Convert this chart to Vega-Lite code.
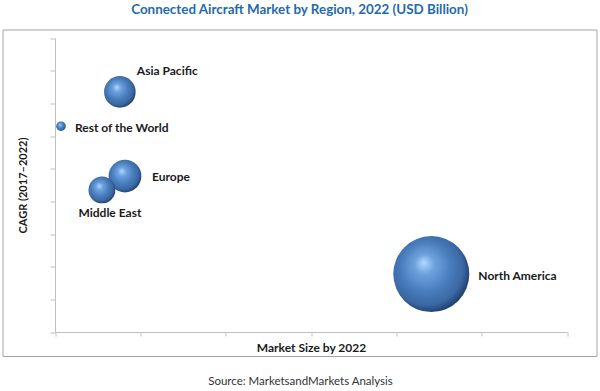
{
  "$schema": "https://vega.github.io/schema/vega-lite/v6.json",
  "autosize": "none",
  "width": 594,
  "height": 326.5,
  "padding": {"left": 2.5, "top": 29.5, "right": 3.5, "bottom": 35},
  "background": "white",
  "config": {
    "font": "Lato",
    "view": {"stroke": "#a6a6a6", "strokeWidth": 1},
    "title": {"font": "Lato"},
    "axis": {"titleFont": "Lato", "labelFont": "Lato"}
  },
  "title": {
    "text": "Connected Aircraft Market by Region, 2022 (USD Billion)",
    "anchor": "middle",
    "frame": "bounds",
    "fontSize": 13.4,
    "fontWeight": "bold",
    "color": "#1f6aad",
    "offset": 13
  },
  "resolve": {"axis": {"x": "independent"}},
  "data": {
    "values": [
      {"region": "North America", "market": 4.41, "cagr": 3.55},
      {"region": "Asia Pacific", "market": 0.76, "cagr": 14.7},
      {"region": "Rest of the World", "market": 0.07, "cagr": 12.6},
      {"region": "Europe", "market": 0.82, "cagr": 9.55},
      {"region": "Middle East", "market": 0.55, "cagr": 8.7}
    ]
  },
  "encoding": {
    "x": {
      "field": "market", "type": "quantitative",
      "scale": {"domain": [0, 6], "range": [52.5, 564.5], "nice": false, "zero": false},
      "axis": null
    },
    "y": {
      "field": "cagr", "type": "quantitative",
      "scale": {"domain": [0, 18], "range": [302.5, 8.5], "nice": false, "zero": false},
      "axis": {
        "title": "CAGR (2017–2022)",
        "orient": "left",
        "offset": -52.5,
        "labels": false, "grid": false,
        "values": [0, 2, 4, 6, 8, 10, 12, 14, 16, 18],
        "tickSize": 5, "tickColor": "#bfbfbf", "domainColor": "#bfbfbf",
        "titleFontSize": 11, "titleFontWeight": "bold", "titleColor": "#1a1a1a",
        "titlePadding": 21
      }
    }
  },
  "layer": [
    {
      "mark": {
        "type": "circle",
        "opacity": 1,
        "fill": {
          "gradient": "radial",
          "x1": 0.4, "y1": 0.35, "r1": 0,
          "x2": 0.45, "y2": 0.45, "r2": 0.58,
          "stops": [
            {"offset": 0, "color": "#b3d9ff"},
            {"offset": 0.22, "color": "#6fa3df"},
            {"offset": 0.55, "color": "#4a7ebe"},
            {"offset": 0.82, "color": "#3a68a3"},
            {"offset": 1, "color": "#1d3a66"}
          ]
        }
      },
      "encoding": {
        "x": {
          "field": "market", "type": "quantitative",
          "axis": {
            "title": "Market Size by 2022",
            "orient": "bottom",
            "offset": -24,
            "labels": false, "grid": false,
            "values": [0, 1, 2, 3, 4, 5, 6],
            "tickSize": 4, "tickColor": "#bfbfbf", "domainColor": "#bfbfbf",
            "titleFontSize": 12, "titleFontWeight": "bold", "titleColor": "#1a1a1a",
            "titlePadding": 6
          }
        },
        "size": {
          "field": "market", "type": "quantitative",
          "scale": {"domain": [0, 6], "range": [0, 7860]},
          "legend": null
        }
      }
    },
    {
      "transform": [{"filter": "datum.region === 'Asia Pacific'"}],
      "mark": {"type": "text", "align": "left", "baseline": "middle", "dx": 17, "dy": -21, "fontSize": 12, "fontWeight": "bold", "color": "#1a1a1a"},
      "encoding": {
        "x": {
          "field": "market", "type": "quantitative",
          "axis": {
            "title": "Source: MarketsandMarkets Analysis",
            "orient": "bottom",
            "offset": 0,
            "domain": false, "ticks": false, "labels": false, "grid": false,
            "titleFontSize": 11.5, "titleFontWeight": "normal", "titleColor": "#333333",
            "titlePadding": 19, "titleX": 297.5, "titleAlign": "center"
          }
        },
        "text": {"field": "region"}
      }
    },
    {
      "transform": [{"filter": "datum.region === 'Rest of the World'"}],
      "mark": {"type": "text", "align": "left", "baseline": "middle", "dx": 14, "dy": 2, "fontSize": 12, "fontWeight": "bold", "color": "#1a1a1a"},
      "encoding": {"text": {"field": "region"}}
    },
    {
      "transform": [{"filter": "datum.region === 'Europe'"}],
      "mark": {"type": "text", "align": "left", "baseline": "middle", "dx": 27, "dy": 1, "fontSize": 12, "fontWeight": "bold", "color": "#1a1a1a"},
      "encoding": {"text": {"field": "region"}}
    },
    {
      "transform": [{"filter": "datum.region === 'Middle East'"}],
      "mark": {"type": "text", "align": "center", "baseline": "middle", "dx": 8, "dy": 23, "fontSize": 12, "fontWeight": "bold", "color": "#1a1a1a"},
      "encoding": {"text": {"field": "region"}}
    },
    {
      "transform": [{"filter": "datum.region === 'North America'"}],
      "mark": {"type": "text", "align": "left", "baseline": "middle", "dx": 47, "dy": 2, "fontSize": 12, "fontWeight": "bold", "color": "#1a1a1a"},
      "encoding": {"text": {"field": "region"}}
    }
  ]
}
